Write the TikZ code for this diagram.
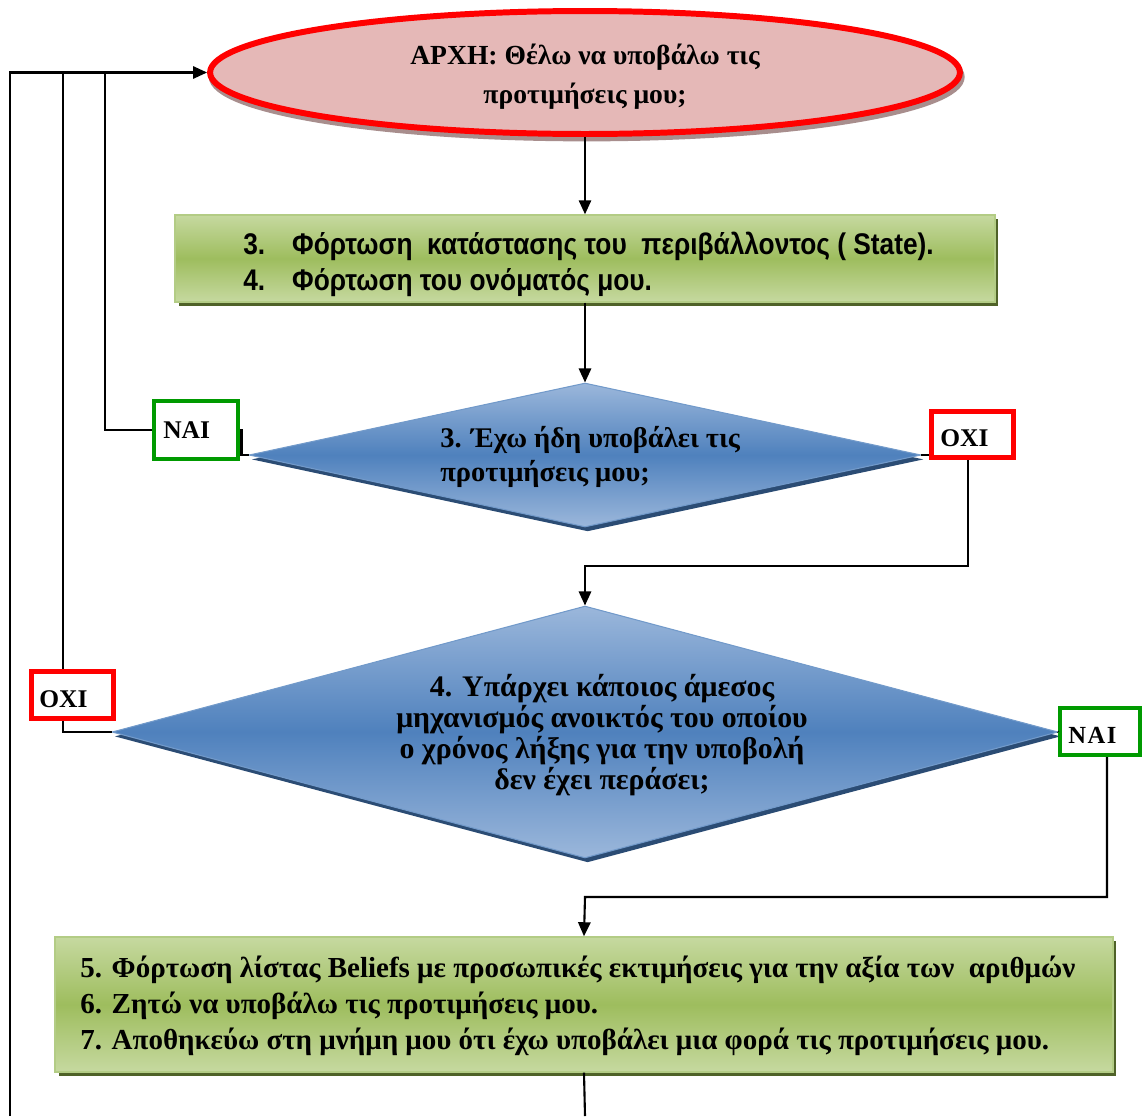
\documentclass[tikz,border=0pt]{standalone}
\usepackage{fontspec}
\setmainfont{Liberation Serif}
\newfontfamily\condsans[FakeStretch=0.88]{Liberation Sans}
\usetikzlibrary{shapes.geometric,arrows.meta,shadows}

\definecolor{startfill}{HTML}{E5B8B7}
\definecolor{startshadow}{HTML}{A88E8D}
\definecolor{greentop}{HTML}{C6D9A0}
\definecolor{greenmid}{HTML}{9EBD5E}
\definecolor{greenline}{HTML}{B3CC85}
\definecolor{greenshadow}{HTML}{4F6228}
\definecolor{bluetop}{HTML}{9BB7DB}
\definecolor{bluemid}{HTML}{4F81BD}
\definecolor{blueshadow}{HTML}{2B4C74}
\definecolor{yesgreen}{HTML}{009A00}
\definecolor{nored}{HTML}{FF0000}

\tikzset{
  flow/.style={line width=1.2pt},
  arrowto/.style={flow, -{Triangle[length=8pt,width=7pt]}},
  startnode/.style={ellipse, draw=nored, line width=3.4pt, fill=startfill,
    minimum width=15cm, minimum height=2.46cm, inner sep=0,
    drop shadow={shadow xshift=1pt, shadow yshift=-2.5pt, fill=startshadow,
      draw=startshadow, line width=3.4pt, opacity=1}},
  actionbox/.style={rectangle, draw=greenline, line width=0.8pt,
    top color=greentop, bottom color=greentop, middle color=greenmid,
    drop shadow={shadow xshift=2pt, shadow yshift=-2pt, fill=greenshadow, opacity=1}},
  decision/.style={diamond, draw=bluemid!80, line width=0.6pt, inner sep=0,
    top color=bluetop, bottom color=bluetop, middle color=bluemid,
    drop shadow={shadow xshift=1.5pt, shadow yshift=-2.5pt, fill=blueshadow, opacity=1}},
  yesbox/.style={rectangle, draw=yesgreen, line width=2.4pt, fill=white, inner sep=0},
  nobox/.style={rectangle, draw=nored, line width=2.8pt, fill=white, inner sep=0},
  answer/.style={inner sep=0, anchor=west, font=\bfseries\fontsize{14.5}{17}\selectfont},
  bodytext/.style={inner sep=0, font=\bfseries\fontsize{16.5}{20.4}\selectfont},
}

\begin{document}
\begin{tikzpicture}[x=0.02cm, y=-0.02cm]
\useasboundingbox (0,0) rectangle (1143,1116);

% start of the flow
\node[startnode] (start) at (585,72.5) {};
\node[bodytext, align=center, font=\bfseries\fontsize{15.7}{22}\selectfont]
  (starttext) at (585,77) {ΑΡΧΗ: Θέλω να υποβάλω τις\\προτιμήσεις μου;};

% loading the environment
\node[actionbox, minimum width=16.4cm, minimum height=1.74cm] (load) at (585,258.5) {};
\node[inner sep=0, anchor=west, align=left,
      font=\condsans\bfseries\fontsize{17}{20.4}\selectfont] (loadtext) at (243,264)
  {\makebox[27.8pt][l]{3.}Φόρτωση\ \ κατάστασης του\ \ περιβάλλοντος ( State).\\
   \makebox[27.8pt][l]{4.}Φόρτωση του ονόματός μου.};

% first question
\node[decision, minimum width=13.44cm, minimum height=2.88cm] (ask1) at (585,455) {};
\node[bodytext, anchor=west, align=left, font=\bfseries\fontsize{16.2}{19.8}\selectfont]
  (ask1text) at (440,457) {3. Έχω ήδη υποβάλει τις\\προτιμήσεις μου;};

% second question
\node[decision, minimum width=18.92cm, minimum height=5.04cm] (ask2) at (585,732) {};
\node[bodytext, align=center, font=\bfseries\fontsize{17}{17.6}\selectfont]
  (ask2text) at (602,735)
  {4. Υπάρχει κάποιος άμεσος\\μηχανισμός ανοικτός του οποίου\\
   ο χρόνος λήξης για την υποβολή\\δεν έχει περάσει;};

% submitting the preferences
\node[actionbox, minimum width=21.16cm, minimum height=2.7cm] (submit) at (584,1004.5) {};
\node[bodytext, anchor=west, align=left] (submittext) at (80,1006)
  {5. Φόρτωση λίστας Beliefs με προσωπικές εκτιμήσεις για την αξία των\ \ αριθμών\\
   6. Ζητώ να υποβάλω τις προτιμήσεις μου.\\
   7. Αποθηκεύω στη μνήμη μου ότι έχω υποβάλει μια φορά τις προτιμήσεις μου.};

% return paths on the left
\coordinate (loopTop) at (10,72.5);
\coordinate (loopBottom) at (10,1116);
\coordinate (yesUp) at (105,72.5);
\coordinate (noUp) at (63,72.5);
\coordinate (joinA) at (585,566);
\coordinate (joinB) at (585,897);
\coordinate (exit) at (585,1116);

\draw[arrowto] (loopBottom) -- (loopTop) -- (start.west);
\draw[flow] (ask2.west) -| (noUp);

% answer boxes
\node[yesbox, minimum width=1.68cm, minimum height=1.16cm] (yes1) at (196,430) {};
\node[answer] (yes1text) at (163,430) {ΝΑΙ};
\node[nobox, minimum width=1.64cm, minimum height=0.92cm] (no1) at (972.5,434.5) {};
\node[answer] (no1text) at (940,438) {ΟΧΙ};
\node[nobox, minimum width=1.64cm, minimum height=0.94cm] (no2) at (72.5,695) {};
\node[answer] (no2text) at (39,699) {ΟΧΙ};
\node[yesbox, minimum width=1.6cm, minimum height=0.94cm] (yes2) at (1100,731.5) {};
\node[answer, font=\bfseries\fontsize{14}{17}\selectfont\addfontfeature{LetterSpace=6}]
  (yes2text) at (1068,735) {ΝΑΙ};

% connectors
\draw[arrowto] (start.south) -- (load.north);
\draw[arrowto] (load.south) -- (ask1.north);
\draw[flow] (ask1.west) -- ++(-7,0) |- (yes1.east);
\draw[flow] (yes1.west) -| (yesUp);
\draw[flow] (ask1.east) -- (ask1.east -| no1.west);
\draw[arrowto] ([xshift=-2.5pt]no1.south) |- (joinA) -- (ask2.north);
\draw[flow] (ask2.east) -- (yes2.west);
\draw[arrowto] ([xshift=4pt]yes2.south) |- (joinB) -- (submit.north);
\draw[flow] (submit.south) -- (exit);
\end{tikzpicture}
\end{document}
